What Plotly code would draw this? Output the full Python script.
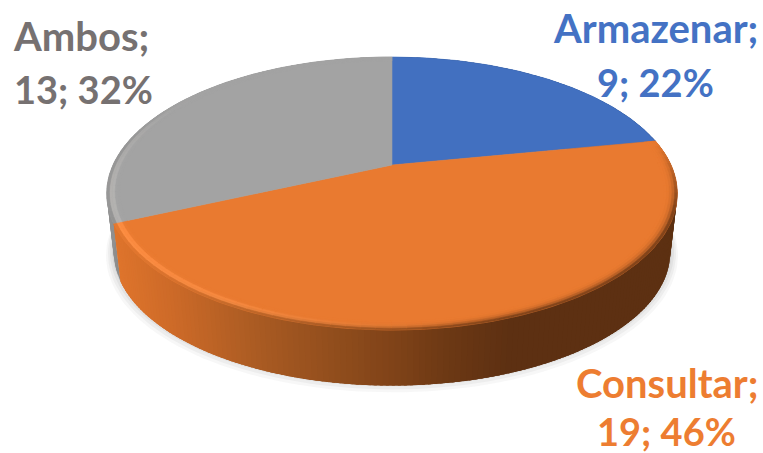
import numpy as np
import plotly.graph_objects as go

categories = ["Armazenar", "Consultar", "Ambos"]
values = [9, 19, 13]

face_colors = ["#4472C4", "#ED7D31", "#A5A5A5"]
face_fill = ["#4270C0", "#E97A30", "#A3A3A3"]
text_colors = ["#4472C4", "#ED7D31", "#767171"]

W, H = 763, 453
CX, CY_APEX = 392, 165
A, C, K = -96.1, 0.2088, 279.0
MID_Y = 193.5


def project(theta, r=1.0, scale=1.0, dy=0.0):
    u, v = r * np.sin(theta), r * np.cos(theta)
    den = 1 + C * v
    x = K * u / den
    y = (A * v + CY_APEX) / den
    return CX + x * scale, MID_Y + (y - MID_Y) * scale + dy


def hex_rgb(h):
    return np.array([int(h[i:i + 2], 16) for i in (1, 3, 5)], float)


def css(c):
    c = np.clip(c, 0, 255).round().astype(int)
    return f"rgb({c[0]},{c[1]},{c[2]})"


def wall_color(x, name):
    if name == "orange":
        xs = [115, 170, 250, 330, 392, 450, 510, 700]
        cs = [(222, 116, 44), (205, 106, 40), (172, 92, 35), (146, 78, 29),
              (128, 67, 24), (108, 56, 20), (93, 48, 18), (93, 48, 18)]
    elif name == "gray":
        xs = [100, 125]
        cs = [(150, 150, 150), (128, 128, 128)]
    else:
        xs = [600, 700]
        cs = [(47, 80, 137), (37, 64, 110)]
    return np.array([np.interp(x, xs, [c[i] for c in cs]) for i in range(3)])


fig = go.Figure()


def poly(xs, ys, color, line=0.8):
    fig.add_trace(go.Scatter(
        x=list(xs), y=list(ys), mode="lines", fill="toself", fillcolor=color,
        line=dict(color=color, width=line), hoverinfo="skip", showlegend=False))


total = sum(values)
edges = np.concatenate([[0], np.cumsum(values)]) / total * 2 * np.pi
pct = [round(100 * v / total) for v in values]
wall_names = ["blue", "orange", "gray"]

DEPTH_SCALE, DEPTH_DY = 0.975, 59

# soft shadow under the disc
full = np.linspace(0, 2 * np.pi, 181)
for grow, off, a in [(1.028, 9, .05), (1.021, 7, .06), (1.014, 5, .07), (1.007, 3, .08)]:
    sx, sy = project(full, 1.0, DEPTH_SCALE * grow, DEPTH_DY + off - 6)
    poly(sx, sy, f"rgba(90,90,90,{a})", 0)

# side wall: each strip runs on under the next one, so no seams show
for i in [0, 2, 1]:
    name = wall_names[i]
    step = 1.0 if name == "orange" else 2.0
    n = max(int((edges[i + 1] - edges[i]) / np.radians(step)), 2)
    t = np.linspace(edges[i], edges[i + 1], n + 1)
    dt = t[1] - t[0]
    for j, a in enumerate(t[:-1]):
        b = min(a + 2.5 * dt, edges[i + 1])
        x1, y1 = project(np.array([a, b]))
        x2, y2 = project(np.array([b, a]), 1.0, DEPTH_SCALE, DEPTH_DY)
        xm, _ = project(np.array([a + dt / 2]))
        col = css(wall_color(xm[0], name))
        poly(np.r_[x1, x2, x1[0]], np.r_[y1, y2, y1[0]], col, 0)

# flat top slices
R_IN = 0.955
for i in range(3):
    t = np.linspace(edges[i], edges[i + 1], 120)
    x, y = project(t)
    poly(np.r_[CX, x, CX], np.r_[CY_APEX, y, CY_APEX], face_fill[i], 0.6)

# rounded rim
bands = np.linspace(R_IN, 1.0, 6)
for i, name in enumerate(wall_names):
    n = max(int((edges[i + 1] - edges[i]) / np.radians(2.5)), 2)
    t = np.linspace(edges[i], edges[i + 1], n + 1)
    base = hex_rgb(face_fill[i])
    for a, b in zip(t[:-1], t[1:]):
        mid = (a + b) / 2
        deg = np.degrees(mid)
        light = np.clip((deg - 165) / 45, 0, 1)
        if name == "blue":
            continue
        if name == "gray":
            fade = np.clip((305 - deg) / 45, 0, 1)
        else:
            fade = np.clip((deg - 79) / 30, 0, 1)
        for k in range(5):
            f = (k + 0.5) / 5
            x1, y1 = project(np.array([a, b]), bands[k])
            x2, y2 = project(np.array([b, a]), bands[k + 1])
            wall = wall_color(x1.mean(), name)
            col = base + (wall - base) * (f ** 3.0) * fade
            bump = np.exp(-((f - 0.62) / 0.2) ** 2) * light * fade
            col = col + bump * np.array([28, 26, 24])
            poly(np.r_[x1, x2, x1[0]], np.r_[y1, y2, y1[0]], css(col), 0.5)

# data labels
label_pos = [
    (655, 28, 655, 82, "center"),
    (667, 383, 666, 431, "center"),
    (11, 36, 12, 89, "left"),
]
for i in range(3):
    x1, y1, x2, y2, anchor = label_pos[i]
    for xx, yy, txt, size in [(x1, y1, f"{categories[i]};", 40),
                              (x2, y2, f"{values[i]}; {pct[i]}%", 38)]:
        fig.add_annotation(x=xx, y=yy, text=f"<b>{txt}</b>", showarrow=False,
                           xref="x", yref="y", xanchor=anchor, yanchor="middle",
                           font=dict(family="Lato", size=size, color=text_colors[i]))

fig.update_layout(
    width=W, height=H, margin=dict(l=0, r=0, t=0, b=0),
    paper_bgcolor="white", plot_bgcolor="white", showlegend=False,
    xaxis=dict(range=[0, W], visible=False, fixedrange=True),
    yaxis=dict(range=[H, 0], visible=False, fixedrange=True),
)
fig.write_html("out.html", config={"displayModeBar": False},
               post_script="document.body.style.margin='0';document.body.style.overflow='hidden';")
